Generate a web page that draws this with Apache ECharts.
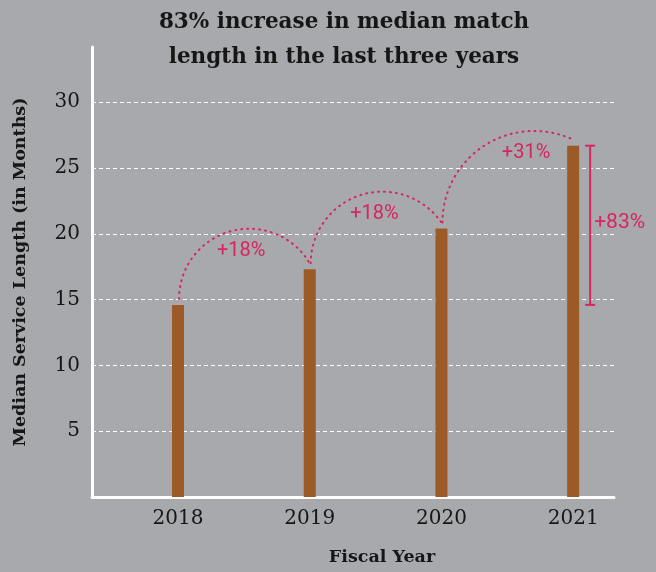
<!DOCTYPE html>
<html lang="en">
<head>
<meta charset="UTF-8">
<title>Median match length</title>
<script src="https://cdn.jsdelivr.net/npm/echarts@6/dist/echarts.min.js"></script>
<style>
  html, body { margin: 0; padding: 0; background: #a7a9ac; }
  #chart { width: 656px; height: 572px; }
</style>
</head>
<body>
<div id="chart"></div>
<script>
const years = [2018, 2019, 2020, 2021];
const medianMonths = [14.6, 17.3, 20.4, 26.7];
const stepLabels = ['+18%', '+18%', '+31%'];
const totalLabel = '+83%';
const yTicks = [5, 10, 15, 20, 25, 30];

const pink = '#d8255f';
const ink = '#161616';
const serif = '"DejaVu Serif", serif';

const chart = echarts.init(document.getElementById('chart'));

// dotted hop from one bar top to the next: a circle arc whose leftmost point is the start
function hopItem(params, api) {
    const s = api.coord([api.value(0), api.value(1)]);
    const e = api.coord([api.value(2), api.value(3)]);
    const x0 = s[0] + 1, y0 = s[1] - 6;
    const x1 = e[0], y1 = e[1] - 6;
    const dx = x1 - x0, dy = y1 - y0;
    const r = (dx * dx + dy * dy) / (2 * dx);
    const cx = x0 + r, cy = y0;
    const end = Math.atan2(y1 - cy, x1 - cx) + 2 * Math.PI;
    return {
        type: 'group',
        children: [
            {
                type: 'arc',
                shape: { cx: cx, cy: cy, r: r, startAngle: Math.PI, endAngle: end, clockwise: true },
                style: { stroke: pink, fill: null, lineWidth: 2, lineDash: [1, 5], lineCap: 'round' }
            },
            {
                type: 'text',
                x: cx - 8,
                y: cy - r + 22,
                style: {
                    text: stepLabels[params.dataIndex], fill: pink,
                    font: '20px Roboto', align: 'center', verticalAlign: 'middle'
                }
            }
        ]
    };
}

// range bar showing total growth first year -> last year
function spanItem(params, api) {
    const top = api.coord([api.value(0), api.value(2)]);
    const bot = api.coord([api.value(0), api.value(1)]);
    const x = top[0] + 17;
    const st = { stroke: pink, lineWidth: 2 };
    return {
        type: 'group',
        children: [
            { type: 'line', shape: { x1: x, y1: top[1], x2: x, y2: bot[1] }, style: st },
            { type: 'line', shape: { x1: x - 5, y1: top[1], x2: x + 5, y2: top[1] }, style: st },
            { type: 'line', shape: { x1: x - 5, y1: bot[1], x2: x + 5, y2: bot[1] }, style: st },
            {
                type: 'text', x: x + 4, y: (top[1] + bot[1]) / 2 - 3,
                style: { text: totalLabel, fill: pink, font: '21px Roboto', align: 'left', verticalAlign: 'middle' }
            }
        ]
    };
}

const barData = years.map((y, i) => [y, medianMonths[i]]);
const hopData = years.slice(0, -1).map((y, i) => [y, medianMonths[i], years[i + 1], medianMonths[i + 1]]);
const last = years.length - 1;
const spanData = [[years[last], medianMonths[0], medianMonths[last]]];

const option = {
    backgroundColor: '#a7a9ac',
    animation: false,
    grid: { left: 92, right: 42, top: 47, bottom: 75 },
    graphic: [{
        type: 'text',
        x: 344,
        y: 5,
        style: {
            text: '83% increase in median match\nlength in the last three years',
            font: 'bold 21.5px ' + serif,
            fill: ink,
            align: 'center',
            lineHeight: 35
        }
    }],
    xAxis: {
        type: 'value',
        min: 2017.347,
        max: 2021.31,
        name: 'Fiscal Year',
        nameLocation: 'middle',
        nameGap: 51,
        nameTextStyle: { fontFamily: serif, fontWeight: 'bold', fontSize: 17.5, color: ink, padding: [0, 0, 0, 58] },
        axisLine: { show: true, onZero: false, lineStyle: { color: '#ffffff', width: 3 } },
        axisTick: { show: false },
        splitLine: { show: false },
        axisLabel: {
            customValues: years,
            formatter: v => String(v),
            fontFamily: serif, fontSize: 20, color: ink, margin: 12
        }
    },
    yAxis: {
        type: 'value',
        min: 0,
        max: 34.2,
        interval: 5,
        name: 'Median Service Length (in Months)',
        nameLocation: 'middle',
        nameGap: 63,
        nameTextStyle: { fontFamily: serif, fontWeight: 'bold', fontSize: 17.5, color: ink },
        axisLine: { show: true, onZero: false, lineStyle: { color: '#ffffff', width: 3 } },
        axisTick: { show: false },
        axisLabel: {
            formatter: v => (yTicks.indexOf(v) >= 0 ? String(v) : ''),
            fontFamily: serif, fontSize: 20, color: ink, margin: 12
        },
        splitLine: {
            show: true, showMinLine: false, showMaxLine: false,
            lineStyle: { color: '#ffffff', type: [4, 3], width: 1 }
        }
    },
    series: [
        {
            type: 'bar',
            data: barData,
            barWidth: 12,
            itemStyle: { color: '#9c5a26' }
        },
        {
            type: 'custom',
            renderItem: hopItem,
            data: hopData,
            encode: { x: [0, 2], y: [1, 3] },
            z: 5
        },
        {
            type: 'custom',
            renderItem: spanItem,
            data: spanData,
            encode: { x: 0, y: [1, 2] },
            z: 5
        }
    ]
};

chart.setOption(option);
</script>
</body>
</html>
